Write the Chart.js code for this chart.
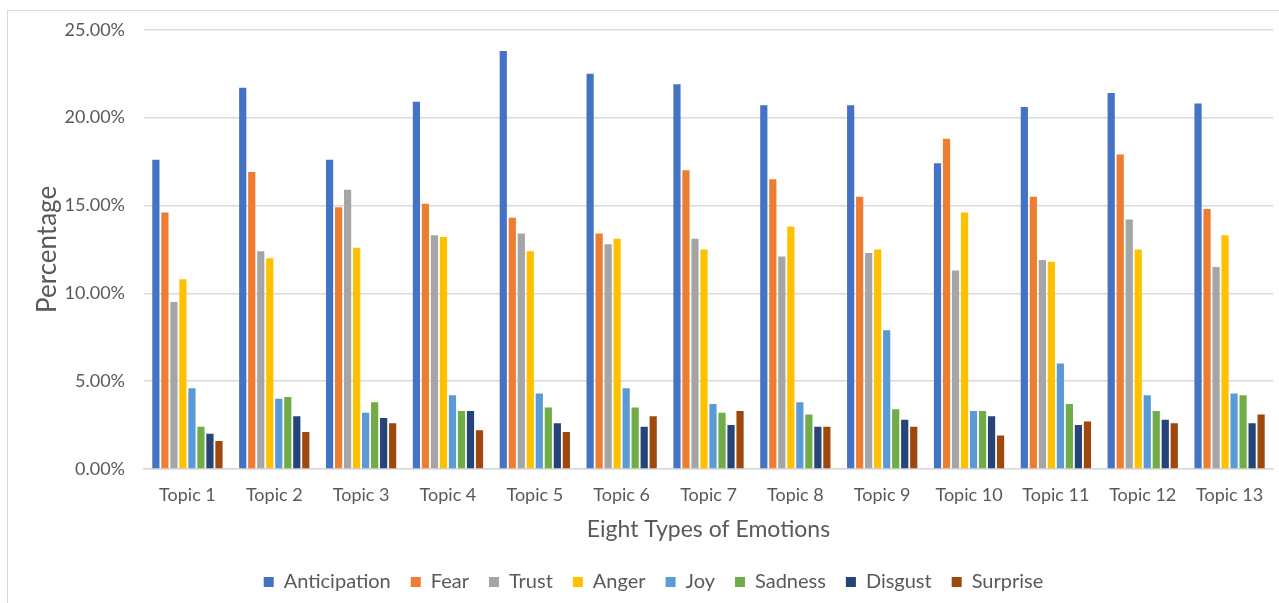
<!DOCTYPE html>
<html>
<head>
<meta charset="utf-8">
<script src="https://cdn.jsdelivr.net/npm/chart.js"></script>
<style>
    html, body { margin: 0; padding: 0; background: #fff; }
    #wrap { position: relative; width: 1279px; height: 603px; overflow: hidden; }
    #frame { position: absolute; left: 7px; top: 10px; right: -2px; bottom: -2px;
             border-left: 1px solid #d9d9d9; border-top: 1px solid #d9d9d9; }
    #chartBox { position: absolute; left: 0; top: 0; width: 1279px; height: 603px; }
</style>
</head>
<body>
<div id="wrap">
    <div id="frame"></div>
    <div id="chartBox"><canvas id="emotionChart"></canvas></div>
</div>
<script type="text/javascript">
    // topics on the x axis
    var topics = ['Topic 1', 'Topic 2', 'Topic 3', 'Topic 4', 'Topic 5', 'Topic 6', 'Topic 7',
                  'Topic 8', 'Topic 9', 'Topic 10', 'Topic 11', 'Topic 12', 'Topic 13'];

    // percentage of each emotion per topic
    var anticipation = [17.6, 21.7, 17.6, 20.9, 23.8, 22.5, 21.9, 20.7, 20.7, 17.4, 20.6, 21.4, 20.8];
    var fear         = [14.6, 16.9, 14.9, 15.1, 14.3, 13.4, 17.0, 16.5, 15.5, 18.8, 15.5, 17.9, 14.8];
    var trust        = [9.5, 12.4, 15.9, 13.3, 13.4, 12.8, 13.1, 12.1, 12.3, 11.3, 11.9, 14.2, 11.5];
    var anger        = [10.8, 12.0, 12.6, 13.2, 12.4, 13.1, 12.5, 13.8, 12.5, 14.6, 11.8, 12.5, 13.3];
    var joy          = [4.6, 4.0, 3.2, 4.2, 4.3, 4.6, 3.7, 3.8, 7.9, 3.3, 6.0, 4.2, 4.3];
    var sadness      = [2.4, 4.1, 3.8, 3.3, 3.5, 3.5, 3.2, 3.1, 3.4, 3.3, 3.7, 3.3, 4.2];
    var disgust      = [2.0, 3.0, 2.9, 3.3, 2.6, 2.4, 2.5, 2.4, 2.8, 3.0, 2.5, 2.8, 2.6];
    var surprise     = [1.6, 2.1, 2.6, 2.2, 2.1, 3.0, 3.3, 2.4, 2.4, 1.9, 2.7, 2.6, 3.1];

    var yTicks = [0, 5, 10, 15, 20, 25];

    var fontFamily = 'Lato, "Open Sans", sans-serif';
    var textColor = '#595959';
    var gridColor = '#d9d9d9';

    function makeSet(label, data, color) {
        return {
            label: label,
            data: data,
            backgroundColor: color,
            borderColor: color,
            borderWidth: 0,
            barPercentage: 0.8,
            categoryPercentage: 0.83
        };
    }

    // nudge the legend a little right and down, like the original
    var legendShift = {
        id: 'legendShift',
        afterLayout: function (chart) {
            var lg = chart.legend;
            lg.left += 17; lg.right += 17;
            lg.top += 9; lg.bottom += 9;
        }
    };

    var ctx = document.getElementById('emotionChart').getContext('2d');
    var emotionChart = new Chart(ctx, {
        type: 'bar',
        data: {
            labels: topics,
            datasets: [
                makeSet('Anticipation', anticipation, '#4472C4'),
                makeSet('Fear', fear, '#ED7D31'),
                makeSet('Trust', trust, '#A5A5A5'),
                makeSet('Anger', anger, '#FFC000'),
                makeSet('Joy', joy, '#5B9BD5'),
                makeSet('Sadness', sadness, '#70AD47'),
                makeSet('Disgust', disgust, '#264478'),
                makeSet('Surprise', surprise, '#9E480E')
            ]
        },
        plugins: [legendShift],
        options: {
            responsive: true,
            maintainAspectRatio: false,
            animation: false,
            layout: {
                padding: { top: 28, right: 6, bottom: 10, left: 0 }
            },
            scales: {
                x: {
                    afterFit: function (scale) {
                        scale.height = 74;
                    },
                    grid: { display: false, drawTicks: false },
                    border: { display: true, color: gridColor, width: 1.5 },
                    ticks: {
                        color: textColor,
                        font: { family: fontFamily, size: 18 },
                        padding: 15,
                        maxRotation: 0
                    },
                    title: {
                        display: true,
                        text: 'Eight Types of Emotions',
                        color: textColor,
                        font: { family: fontFamily, size: 23 },
                        padding: { top: 0, bottom: 0 }
                    }
                },
                y: {
                    min: 0,
                    max: 25,
                    afterBuildTicks: function (scale) {
                        scale.ticks = yTicks.map(function (v) { return { value: v }; });
                    },
                    afterFit: function (scale) {
                        scale.width = 144;
                    },
                    grid: { color: gridColor, lineWidth: 1.5, drawTicks: false },
                    border: { display: false },
                    ticks: {
                        color: textColor,
                        font: { family: fontFamily, size: 18 },
                        padding: 19,
                        callback: function (value) {
                            return value.toFixed(2) + '%';
                        }
                    },
                    title: {
                        display: true,
                        text: 'Percentage',
                        color: textColor,
                        font: { family: fontFamily, size: 26 },
                        padding: { top: 32, bottom: 0 }
                    }
                }
            },
            plugins: {
                legend: {
                    position: 'bottom',
                    labels: {
                        color: textColor,
                        font: { family: fontFamily, size: 20 },
                        boxWidth: 10,
                        boxHeight: 10,
                        padding: 20
                    }
                },
                tooltip: { enabled: false }
            }
        }
    });
</script>
</body>
</html>
